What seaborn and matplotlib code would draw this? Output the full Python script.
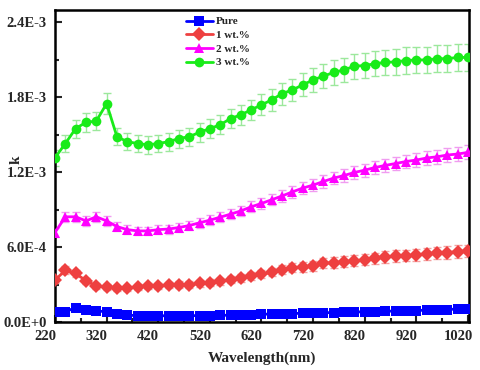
import numpy as np
import pandas as pd
import seaborn as sns
import matplotlib.pyplot as plt
from matplotlib.ticker import FixedLocator, MultipleLocator, FuncFormatter
from matplotlib.transforms import ScaledTranslation

wavelength = list(range(220, 1021, 20))

k_pure = [0.083, 0.083, 0.115, 0.100, 0.088, 0.083, 0.067, 0.056, 0.050, 0.050,
          0.050, 0.050, 0.050, 0.050, 0.052, 0.052, 0.053, 0.055, 0.058, 0.060,
          0.062, 0.064, 0.066, 0.068, 0.070, 0.072, 0.074, 0.076, 0.078, 0.080,
          0.082, 0.084, 0.086, 0.088, 0.090, 0.092, 0.095, 0.098, 0.100, 0.104,
          0.107]
k_1wt = [0.335, 0.415, 0.390, 0.330, 0.290, 0.280, 0.270, 0.270, 0.280, 0.290,
         0.290, 0.295, 0.300, 0.300, 0.310, 0.315, 0.325, 0.340, 0.353, 0.370,
         0.383, 0.400, 0.420, 0.436, 0.440, 0.450, 0.470, 0.476, 0.484, 0.490,
         0.500, 0.510, 0.520, 0.527, 0.532, 0.537, 0.548, 0.553, 0.556, 0.564,
         0.570]
k_2wt = [0.717, 0.843, 0.843, 0.810, 0.843, 0.810, 0.765, 0.740, 0.730, 0.730,
         0.740, 0.745, 0.757, 0.773, 0.795, 0.816, 0.840, 0.864, 0.890, 0.923,
         0.950, 0.980, 1.010, 1.043, 1.073, 1.097, 1.126, 1.153, 1.174, 1.198,
         1.217, 1.238, 1.255, 1.270, 1.286, 1.298, 1.314, 1.324, 1.338, 1.346,
         1.359]
k_3wt = [1.316, 1.430, 1.550, 1.600, 1.610, 1.750, 1.485, 1.445, 1.430, 1.420,
         1.430, 1.445, 1.470, 1.485, 1.520, 1.550, 1.580, 1.630, 1.660, 1.700,
         1.740, 1.780, 1.830, 1.860, 1.900, 1.940, 1.970, 2.000, 2.020, 2.050,
         2.055, 2.070, 2.080, 2.085, 2.095, 2.100, 2.100, 2.110, 2.110, 2.120,
         2.120]

err_pure = [0.006, 0.006, 0.008, 0.007, 0.006, 0.006, 0.005, 0.004, 0.004, 0.004,
            0.004, 0.004, 0.004, 0.004, 0.004, 0.004, 0.004, 0.004, 0.004, 0.004,
            0.005, 0.005, 0.005, 0.005, 0.005, 0.005, 0.005, 0.006, 0.006, 0.006,
            0.006, 0.006, 0.006, 0.006, 0.007, 0.007, 0.007, 0.007, 0.007, 0.007,
            0.008]
err_1wt = [0.024, 0.030, 0.028, 0.024, 0.022, 0.022, 0.021, 0.021, 0.022, 0.023,
           0.023, 0.024, 0.025, 0.025, 0.026, 0.027, 0.028, 0.029, 0.030, 0.032,
           0.033, 0.034, 0.036, 0.037, 0.038, 0.039, 0.040, 0.041, 0.042, 0.043,
           0.044, 0.045, 0.046, 0.046, 0.047, 0.047, 0.048, 0.048, 0.049, 0.049,
           0.050]
err_2wt = [0.035, 0.040, 0.040, 0.038, 0.040, 0.038, 0.036, 0.035, 0.035, 0.035,
           0.035, 0.036, 0.036, 0.037, 0.038, 0.039, 0.040, 0.041, 0.042, 0.043,
           0.044, 0.045, 0.046, 0.047, 0.048, 0.049, 0.050, 0.051, 0.051, 0.052,
           0.052, 0.053, 0.053, 0.054, 0.054, 0.055, 0.055, 0.055, 0.056, 0.056,
           0.056]
err_3wt = [0.065, 0.068, 0.072, 0.074, 0.074, 0.082, 0.070, 0.070, 0.070, 0.070,
           0.070, 0.071, 0.072, 0.073, 0.074, 0.075, 0.076, 0.078, 0.080, 0.082,
           0.084, 0.086, 0.088, 0.090, 0.092, 0.094, 0.096, 0.098, 0.099, 0.100,
           0.101, 0.102, 0.103, 0.104, 0.105, 0.106, 0.107, 0.108, 0.108, 0.109,
           0.110]

labels = ["Pure", "1 wt.%", "2 wt.%", "3 wt.%"]
colors = ["#0000FF", "#EE4040", "#FF00FF", "#19EB19"]
err_colors = ["#8080FF", "#F4A0A0", "#F09CF0", "#9CE89C"]
markers = ["s", "D", "^", "o"]

x_ticks = [220, 320, 420, 520, 620, 720, 820, 920, 1020]

series = [k_pure, k_1wt, k_2wt, k_3wt]
errors = [err_pure, err_1wt, err_2wt, err_3wt]

df = pd.concat([pd.DataFrame({"wl": wavelength, "k": np.array(v) * 1e-3, "sample": lab})
                for v, lab in zip(series, labels)])

sns.set_style("white")
plt.rcParams['font.family'] = ['Liberation Serif', 'DejaVu Serif']
plt.rcParams['font.weight'] = 'bold'

fig = plt.figure(figsize=(4.8, 3.7), dpi=100)
ax = fig.add_axes([55 / 480, 48 / 370, 414 / 480, 312 / 370])

for v, e, c in zip(series, errors, err_colors):
    ax.errorbar(wavelength, np.array(v) * 1e-3, yerr=np.array(e) * 1e-3, fmt='none',
                ecolor=c, elinewidth=1, capsize=3, capthick=1, zorder=1)

sns.lineplot(data=df, x="wl", y="k", hue="sample", style="sample",
             palette=dict(zip(labels, colors)), markers=dict(zip(labels, markers)),
             dashes=False, linewidth=2, markersize=7, markeredgewidth=0,
             ax=ax, zorder=3)

ax.set_xlim(220, 1022)
ax.set_ylim(0, 2.5e-3)
ax.xaxis.set_major_locator(FixedLocator(x_ticks))
ax.xaxis.set_minor_locator(FixedLocator([t + 50 for t in x_ticks[:-1]]))
ax.yaxis.set_major_locator(MultipleLocator(6e-4))
ax.yaxis.set_minor_locator(MultipleLocator(3e-4))

def sci(v, pos):
    m, ex = f"{v:.1E}".split("E")
    return f"{m}E+0" if int(ex) == 0 else f"{m}E{int(ex)}"

ax.yaxis.set_major_formatter(FuncFormatter(sci))
ax.tick_params(which='both', direction='in', left=True, bottom=True, top=False, right=False,
               labelsize=10.5, width=1.5)
ax.tick_params(which='major', length=5, pad=6)
ax.tick_params(which='minor', length=3)
for lab in ax.get_yticklabels():
    lab.set_fontweight('bold')
# x tick labels in the original sit about 10 px left of their ticks
shift = ScaledTranslation(-10 / 100, 0, fig.dpi_scale_trans)
for lab in ax.get_xticklabels():
    lab.set_fontweight('bold')
    lab.set_transform(lab.get_transform() + shift)
for sp in ax.spines.values():
    sp.set_linewidth(1.8)
    sp.set_color('black')

ax.set_xlabel("Wavelength(nm)", fontsize=11, fontweight='bold', labelpad=6)
ax.set_ylabel("k", fontsize=11, fontweight='bold')
ax.yaxis.set_label_coords(-0.078, 0.52)

ax.legend(loc='upper left', bbox_to_anchor=(0.3, 1.0), frameon=False,
          prop={'size': 8, 'weight': 'bold'}, handlelength=2.4,
          handletextpad=0.3, labelspacing=0.35, borderaxespad=0.2)

fig.savefig("out.png", dpi=100)
